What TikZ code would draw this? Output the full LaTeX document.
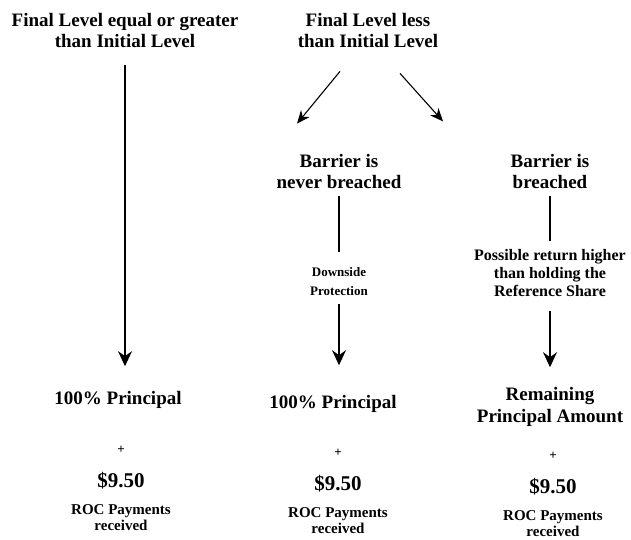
\documentclass[tikz,border=0pt]{standalone}
\usepackage{fontspec}
\setmainfont{Liberation Serif}
\usetikzlibrary{positioning, arrows.meta, calc}

\begin{document}
\begin{tikzpicture}[x=1pt,y=-1pt,>={Stealth[length=15pt,width=14pt,inset=5pt]},
  head/.style={align=center,inner sep=0pt,font=\fontsize{19}{21}\selectfont\bfseries},
  note/.style={align=center,inner sep=0pt,font=\fontsize{13}{19}\selectfont\bfseries},
  roc/.style={align=center,inner sep=0pt,font=\fontsize{15}{16}\selectfont\bfseries},
  plus/.style={inner sep=0pt,font=\fontsize{13}{13}\selectfont\bfseries},
  link/.style={line width=1.1pt}]
  \useasboundingbox (0,0) rectangle (631,540);
  % the two outcomes at the end
  \node[head](ge) at (125,31){Final Level equal or greater\\ than Initial Level};
  \node[head](lt) at (368,31){Final Level less\\ than Initial Level};
  \node[head](never) at (339,172){Barrier is\\ never breached};
  \node[head](hit) at (550,172){Barrier is\\ breached};
  \node[note](prot) at (339,282){Downside\\ Protection};
  \node[note,font=\fontsize{16}{18}\selectfont\bfseries](ret) at (550,273){Possible return higher\\ than holding the\\ Reference Share};
  % what is paid back
  \node[head](pa) at (118,400){100\% Principal};
  \node[head](pb) at (333,404){100\% Principal};
  \node[head,font=\fontsize{19}{22}\selectfont\bfseries](pc) at (550,407){Remaining\\ Principal Amount};
  \foreach \n/\x/\y in {a/121/0,b/338/3,c/553/6}{
    \node[plus](plus\n) at (\x,450+\y){+};
    \node[head,font=\fontsize{21}{21}\selectfont\bfseries](cash\n) at (\x,481+\y){\$9.50};
    \node[roc](roc\n) at (\x,518+\y){ROC Payments\\ received};
  }
  \draw[link,->,shorten <=17pt,shorten >=25pt](ge.south)--(ge.south |- pa.north);
  \draw[link,->,>={Stealth[length=13pt,width=11pt,inset=4pt]}]($(lt.south)+(-28,23)$)--($(never.north)+(-42,-31)$);
  \draw[link,->,>={Stealth[length=13pt,width=11pt,inset=4pt]}]($(lt.south)+(32,25)$)--($(lt.south)+(75,73)$);
  \draw[link,shorten <=7pt,shorten >=16pt](never)--(prot);
  \draw[link,->,shorten <=8pt,shorten >=30pt](prot)--(prot |- pb.north);
  \draw[link,shorten <=7pt,shorten >=8pt](hit)--(ret);
  \draw[link,->,shorten <=14pt,shorten >=20pt](ret)--(pc);
\end{tikzpicture}
\end{document}
